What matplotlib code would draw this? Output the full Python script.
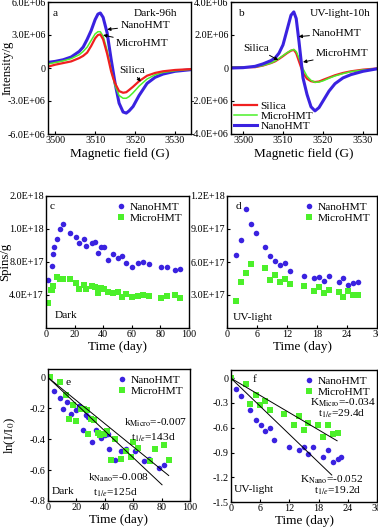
import matplotlib
matplotlib.use("Agg")
import matplotlib.pyplot as plt

plt.rcParams["font.family"] = ["Liberation Serif", "DejaVu Serif"]
plt.rcParams["mathtext.fontset"] = "stix"
plt.rcParams["axes.unicode_minus"] = False
plt.rcParams["xtick.direction"] = "in"
plt.rcParams["ytick.direction"] = "in"
plt.rcParams["xtick.major.size"] = 2.5
plt.rcParams["ytick.major.size"] = 2.5
plt.rcParams["axes.linewidth"] = 1.0

BLUE = "#3a22e0"
GREEN = "#4cf02a"
RED = "#f02020"

# ---- panel a: EPR spectra, dark 96 h (intensity in 1e6) ----
a_field = [3498, 3500, 3502, 3504, 3506, 3507, 3508, 3509, 3510, 3510.7, 3511.3, 3512, 3513,
           3514, 3514.5, 3515, 3516, 3517, 3517.8, 3518.5, 3519.5, 3521, 3523, 3525, 3527, 3530, 3534]
a_nano = [0.5, 0.6, 0.75, 1.0, 1.5, 1.9, 2.6, 3.4, 4.4, 4.9, 5.0, 4.6, 3.2,
          0.8, -0.3, -1.4, -3.2, -4.0, -4.1, -3.9, -3.5, -2.5, -1.4, -0.85, -0.55, -0.3, -0.15]
a_micro = [0.35, 0.5, 0.65, 0.85, 1.2, 1.5, 1.9, 2.5, 3.1, 3.3, 3.3, 2.9, 1.6,
           -0.2, -0.9, -1.6, -2.5, -2.75, -2.75, -2.6, -2.25, -1.65, -1.0, -0.62, -0.4, -0.25, -0.12]
a_silica = [0.1, 0.3, 0.45, 0.6, 0.9, 1.1, 1.4, 2.0, 2.7, 3.0, 3.05, 2.6, 1.3,
            -0.3, -0.9, -1.4, -2.1, -2.25, -2.2, -2.0, -1.7, -1.2, -0.7, -0.45, -0.3, -0.18, -0.1]

# ---- panel b: EPR spectra, UV 10 h (intensity in 1e6) ----
b_field = [3497, 3500, 3503, 3505, 3507, 3508, 3509, 3510, 3511, 3512, 3512.7, 3513.3, 3514,
           3514.5, 3515, 3516, 3517, 3518, 3519, 3520, 3521.5, 3523, 3525, 3527, 3530, 3533.5]
b_nano = [0.0, 0.02, 0.1, 0.25, 0.45, 0.6, 0.9, 1.4, 2.3, 3.2, 3.4, 3.0, 1.6,
          0.5, -0.6, -1.6, -2.35, -2.6, -2.4, -2.0, -1.4, -0.95, -0.6, -0.4, -0.2, -0.05]
b_micro = [0.05, 0.05, 0.06, 0.15, 0.3, 0.42, 0.58, 0.75, 0.92, 1.07, 1.12, 1.0, 0.6,
           0.3, -0.05, -0.5, -0.75, -0.87, -0.85, -0.78, -0.62, -0.48, -0.34, -0.22, -0.12, -0.04]
b_silica = [0.05, 0.05, 0.05, 0.15, 0.3, 0.4, 0.55, 0.72, 0.9, 1.05, 1.1, 0.9, 0.4,
            0.05, -0.3, -0.65, -0.8, -0.85, -0.82, -0.72, -0.58, -0.44, -0.3, -0.2, -0.1, -0.03]

# ---- panel c: spins/g, dark (in 1e17) ----
c_nano_t = [1.6, 4.0, 5.2, 5.9, 8.0, 9.9, 12.2, 17.0, 21.2, 23.3, 26.4, 28.3, 32.3, 34.1, 36.5,
            38.6, 40.5, 43.6, 46.9, 50.0, 52.8, 56.0, 60.0, 64.1, 68.0, 72.3, 80.1, 84.6, 90.5, 93.5]
c_nano = [5.8, 7.5, 9.0, 9.8, 10.75, 12.0, 12.6, 11.55, 11.0, 10.3, 10.75, 9.9, 10.3, 10.4, 9.05,
          9.85, 9.8, 8.3, 9.0, 8.5, 8.75, 7.9, 7.4, 7.85, 7.95, 7.7, 7.35, 7.45, 7.0, 7.2]
c_micro_t = [1.6, 3.5, 4.0, 5.2, 7.5, 9.9, 12.2, 17.0, 21.0, 23.3, 26.4, 28.3, 32.3, 34.6, 36.5,
             38.6, 40.5, 43.6, 46.9, 50.0, 52.8, 56.0, 60.0, 64.1, 68.0, 72.3, 80.1, 84.6, 90.5, 93.5]
c_micro = [3.0, 4.6, 4.6, 5.1, 6.15, 6.0, 6.0, 5.9, 5.5, 4.7, 5.2, 4.7, 5.1, 5.0, 4.3,
           4.8, 4.7, 4.35, 4.3, 4.4, 3.7, 4.1, 3.7, 3.9, 4.0, 3.9, 3.65, 3.9, 4.0, 3.65]

# ---- panel d: spins/g, UV light (in 1e17) ----
d_t = [1.8, 2.7, 3.7, 4.7, 5.7, 7.6, 8.6, 9.6, 10.6, 11.5, 12.5, 15.4, 17.3, 18.3, 19.3, 20.3,
       22.3, 23.1, 24.1, 25.1, 26.1]
d_nano = [6.64, 8.0, 10.8, 9.45, 8.66, 7.33, 6.55, 6.12, 5.73, 5.94, 5.15, 4.73, 4.55, 4.67, 4.3, 4.73,
          4.15, 4.55, 3.9, 4.06, 4.15]
d_micro_t = [1.8, 2.7, 3.7, 4.7, 7.6, 8.6, 9.6, 10.6, 11.5, 12.5, 15.4, 17.3, 18.3, 19.3, 20.3,
             22.3, 23.1, 24.1, 25.1, 26.1]
d_micro = [2.48, 4.2, 5.03, 5.82, 5.43, 4.36, 4.79, 4.2, 4.42, 4.0, 3.82, 3.36, 3.7, 3.15, 3.45,
           3.3, 2.85, 3.36, 3.0, 3.03]

# ---- panel e: ln(I/I0), dark ----
e_nano_t = [0, 4.5, 8.5, 10.4, 13.7, 16.0, 19.8, 22.1, 24.3, 26.6, 28.5, 30.9, 33.9, 37.5, 39.8,
            42.2, 43.3, 47.3, 51.3, 54.9, 61.5, 67.4, 71.4, 78.0, 81.5]
e_nano = [0, -0.086, -0.132, -0.205, -0.158, -0.238, -0.208, -0.186, -0.342, -0.244, -0.255, -0.418,
          -0.342, -0.391, -0.374, -0.363, -0.465, -0.532, -0.476, -0.465, -0.478, -0.541, -0.526,
          -0.586, -0.565]
e_micro_t = [1.4, 8.5, 12.7, 15.1, 17.4, 19.8, 23.3, 25.7, 27.8, 28.5, 30.1, 32.7, 34.9, 36.7, 39.6,
             41.5, 44.5, 47.3, 51.6, 55.1, 58.4, 59.8, 63.4, 72.1, 75.6, 82.0, 85.0]
e_micro = [0, -0.032, -0.115, -0.27, -0.175, -0.281, -0.201, -0.201, -0.212, -0.368, -0.27, -0.277,
           -0.357, -0.37, -0.363, -0.348, -0.536, -0.4, -0.526, -0.478, -0.515, -0.418, -0.456,
           -0.543, -0.465, -0.435, -0.536]
e_fit_micro_t, e_fit_micro = [0, 85], [0, -0.635]
e_fit_nano_t, e_fit_nano = [0, 80.3], [0, -0.695]

# ---- panel f: ln(I/I0), UV light ----
f_nano_t = [0, 0.96, 2.0, 4.0, 5.1, 6.1, 7.0, 8.0, 8.9, 12.0, 14.0, 15.0, 15.9, 16.9, 19.0, 20.0,
            20.9, 21.9, 22.7]
f_nano = [0, -0.133, -0.218, -0.38, -0.508, -0.569, -0.641, -0.598, -0.743, -0.831, -0.871, -0.831,
          -0.919, -0.831, -0.952, -0.871, -1.012, -0.98, -0.96]
f_micro_t = [0, 3.0, 4.0, 5.1, 6.0, 7.0, 8.0, 10.9, 13.0, 14.0, 15.0, 15.9, 17.9, 19.0, 19.9,
             20.9, 21.9]
f_micro = [0, -0.073, -0.307, -0.198, -0.327, -0.278, -0.38, -0.428, -0.569, -0.456, -0.629, -0.537,
           -0.561, -0.71, -0.561, -0.67, -0.658]
f_fit_micro_t, f_fit_micro = [0, 21.8], [0, -0.758]
f_fit_nano_t, f_fit_nano = [0, 20.7], [0, -1.173]

W, H = 378, 530
fig = plt.figure(figsize=(W / 100, H / 100), dpi=100)


def box(left, top, right, bottom):
    return fig.add_axes([left / W, 1 - bottom / H, (right - left) / W, (bottom - top) / H])


TK = 7.3
LB = 9.5
YL = 9.2
TX = 8.2
MS = 4.0

# panel a
ax = box(48, 2, 191, 134)
ax.plot(a_field, [v * 1e6 for v in a_nano], color=BLUE, lw=2.2)
ax.plot(a_field, [v * 1e6 for v in a_micro], color=GREEN, lw=1.1)
ax.plot(a_field, [v * 1e6 for v in a_silica], color=RED, lw=1.6)
ax.set_xlim(3498.2, 3534)
ax.set_ylim(-6e6, 6e6)
ax.set_xticks([3500, 3510, 3520, 3530])
ax.set_yticks([-6e6, -3e6, 0, 3e6, 6e6])
ax.set_yticklabels(["-6.0E+06", "-3.0E+06", "0", "3.0E+06", "6.0E+06"])
ax.set_xlabel("Magnetic field (G)", fontsize=LB, labelpad=2)
ax.set_ylabel("Intensity/g", fontsize=YL)
ax.yaxis.set_label_coords(-0.24, 0.5)
ax.text(3500, 5.0e6, "a", fontsize=TX, ha="center", va="center")
ax.text(3525, 5.0e6, "Dark-96h", fontsize=TX, ha="center", va="center")
arr = dict(arrowstyle="-|>", color="black", lw=0.7, mutation_scale=5, shrinkA=0, shrinkB=0)
ax.annotate("NanoHMT", xy=(3513, 3.5e6), xytext=(3522.5, 3.9e6), fontsize=TX, ha="center", va="center", arrowprops=arr)
ax.annotate("MicroHMT", xy=(3512, 3.0e6), xytext=(3521.8, 2.2e6), fontsize=TX, ha="center", va="center", arrowprops=arr)
ax.annotate("Silica", xy=(3521.4, -1.25e6), xytext=(3519.2, -0.2e6), fontsize=TX, ha="center", va="center", arrowprops=arr)

# panel b
ax = box(231, 2, 377, 134)
ax.plot(b_field, [v * 1e6 for v in b_silica], color=RED, lw=1.6, label="Silica")
ax.plot(b_field, [v * 1e6 for v in b_micro], color=GREEN, lw=1.1, label="MicroHMT")
ax.plot(b_field, [v * 1e6 for v in b_nano], color=BLUE, lw=2.2, label="NanoHMT")
ax.set_xlim(3497, 3533.5)
ax.set_ylim(-4e6, 4e6)
ax.set_xticks([3500, 3510, 3520, 3530])
ax.set_yticks([-4e6, -2e6, 0, 2e6, 4e6])
ax.set_yticklabels(["-4.0E+06", "-2.0E+06", "0", "2.0E+06", "4.0E+06"])
ax.set_xlabel("Magnetic field (G)", fontsize=LB, labelpad=2)
ax.text(3499.5, 3.33e6, "b", fontsize=TX, ha="center", va="center")
ax.text(3524.3, 3.33e6, "UV-light-10h", fontsize=TX, ha="center", va="center")
ax.annotate("NanoHMT", xy=(3513.9, 1.9e6), xytext=(3523.5, 2.12e6), fontsize=TX, ha="center", va="center", arrowprops=arr)
ax.annotate("Silica", xy=(3508.8, 0.48e6), xytext=(3503.3, 1.21e6), fontsize=TX, ha="center", va="center", arrowprops=arr)
ax.annotate("MicroHMT", xy=(3515, 0.36e6), xytext=(3524.8, 0.85e6), fontsize=TX, ha="center", va="center", arrowprops=arr)
ax.legend(loc="lower left", frameon=False, fontsize=TX, handlelength=2.0, handletextpad=0.3,
          labelspacing=0.0, borderaxespad=0.1, borderpad=0.2)

# panel c
ax = box(46, 196, 189, 328)
ax.plot(c_nano_t, [v * 1e17 for v in c_nano], "o", color=BLUE, ms=MS, mew=0, label="NanoHMT")
ax.plot(c_micro_t, [v * 1e17 for v in c_micro], "s", color=GREEN, ms=MS, mew=0, label="MicroHMT")
ax.set_xlim(0, 100)
ax.set_ylim(0, 1.6e18)
ax.set_xticks([0, 20, 40, 60, 80, 100])
ax.set_yticks([4e17, 8e17, 1.2e18, 1.6e18])
ax.set_yticklabels(["4.0E+17", "8.0E+17", "1.0E+18", "2.0E+18"])
ax.set_xlabel("Time (day)", fontsize=LB, labelpad=1)
ax.set_ylabel("Spins/g", fontsize=YL)
ax.yaxis.set_label_coords(-0.242, 0.5)
ax.text(0.042, 0.917, "c", transform=ax.transAxes, fontsize=TX, ha="center", va="center")
ax.text(0.14, 0.098, "Dark", transform=ax.transAxes, fontsize=TX, ha="center", va="center")
ax.legend(loc="upper right", frameon=False, fontsize=TX, handlelength=0.8, handletextpad=0.4,
          labelspacing=0.1, borderaxespad=0.15)

# panel d
ax = box(227, 196, 377, 328)
ax.plot(d_t, [v * 1e17 for v in d_nano], "o", color=BLUE, ms=MS, mew=0, label="NanoHMT")
ax.plot(d_micro_t, [v * 1e17 for v in d_micro], "s", color=GREEN, ms=MS, mew=0, label="MicroHMT")
ax.set_xlim(0, 30)
ax.set_ylim(0, 1.2e18)
ax.set_xticks([0, 6, 12, 18, 24, 30])
ax.set_yticks([3e17, 6e17, 9e17, 1.2e18])
ax.set_yticklabels(["3.0E+17", "6.0E+17", "9.0E+17", "1.2E+18"])
ax.set_xlabel("Time (day)", fontsize=LB, labelpad=1)
ax.text(0.073, 0.917, "d", transform=ax.transAxes, fontsize=TX, ha="center", va="center")
ax.text(0.17, 0.076, "UV-light", transform=ax.transAxes, fontsize=TX, ha="center", va="center")
ax.legend(loc="upper right", frameon=False, fontsize=TX, handlelength=0.8, handletextpad=0.4,
          labelspacing=0.1, borderaxespad=0.15)

# panel e
ax = box(48, 369, 190, 501)
ax.plot(e_nano_t, e_nano, "o", color=BLUE, ms=MS, mew=0, label="NanoHMT")
ax.plot(e_micro_t, e_micro, "s", color=GREEN, ms=MS, mew=0, label="MicroHMT")
ax.plot(e_fit_micro_t, e_fit_micro, color="black", lw=0.7)
ax.plot(e_fit_nano_t, e_fit_nano, color="black", lw=0.7)
ax.set_xlim(0, 100)
ax.set_ylim(-0.8, 0.055)
ax.set_xticks([0, 20, 40, 60, 80, 100])
ax.set_yticks([0, -0.2, -0.4, -0.6, -0.8])
ax.set_yticklabels(["0", "-0.2", "-0.4", "-0.6", "-0.8"])
ax.set_xlabel("Time (day)", fontsize=LB, labelpad=1)
ax.set_ylabel("ln(I/I$_0$)", fontsize=YL)
ax.yaxis.set_label_coords(-0.21, 0.5)
ax.text(0.14, 0.90, "e", transform=ax.transAxes, fontsize=TX, ha="center", va="center")
ax.text(10.5, -0.736, "Dark", fontsize=TX, ha="center", va="center")
ax.text(75.6, -0.294, "k$_{\\rm Micro}$=-0.007", fontsize=TX, ha="center", va="center")
ax.text(74.2, -0.392, "t$_{1/e}$=143d", fontsize=TX, ha="center", va="center")
ax.text(49.5, -0.651, "k$_{\\rm Nano}$=-0.008", fontsize=TX, ha="center", va="center")
ax.text(47.3, -0.745, "t$_{1/e}$=125d", fontsize=TX, ha="center", va="center")
ax.legend(loc="upper right", frameon=False, fontsize=TX, handlelength=0.8, handletextpad=0.4,
          labelspacing=0.1, borderaxespad=0.15)

# panel f
ax = box(231, 370, 377, 502)
ax.plot(f_nano_t, f_nano, "o", color=BLUE, ms=MS, mew=0, label="NanoHMT")
ax.plot(f_micro_t, f_micro, "s", color=GREEN, ms=MS, mew=0, label="MicroHMT")
ax.plot(f_fit_micro_t, f_fit_micro, color="black", lw=0.7)
ax.plot(f_fit_nano_t, f_fit_nano, color="black", lw=0.7)
ax.set_xlim(0, 30)
ax.set_ylim(-1.5, 0.1)
ax.set_xticks([0, 6, 12, 18, 24, 30])
ax.set_yticks([0, -0.3, -0.6, -0.9, -1.2, -1.5])
ax.set_yticklabels(["0", "-0.3", "-0.6", "-0.9", "-1.2", "-1.5"])
ax.set_xlabel("Time (day)", fontsize=LB, labelpad=1)
ax.text(4.9, -0.02, "f", fontsize=TX, ha="center", va="center")
ax.text(4.7, -1.35, "UV-light", fontsize=TX, ha="center", va="center")
ax.text(23, -0.295, "K$_{\\rm Micro}$=-0.034", fontsize=TX, ha="center", va="center")
ax.text(22.8, -0.435, "t$_{1/e}$=29.4d", fontsize=TX, ha="center", va="center")
ax.text(20.7, -1.225, "K$_{\\rm Nano}$=-0.052", fontsize=TX, ha="center", va="center")
ax.text(22, -1.36, "t$_{1/e}$=19.2d", fontsize=TX, ha="center", va="center")
ax.legend(loc="upper right", frameon=False, fontsize=TX, handlelength=0.8, handletextpad=0.4,
          labelspacing=0.1, borderaxespad=0.15)

for a in fig.axes:
    a.tick_params(labelsize=TK, pad=1.6, width=0.8)

fig.savefig("out.png", dpi=100)
